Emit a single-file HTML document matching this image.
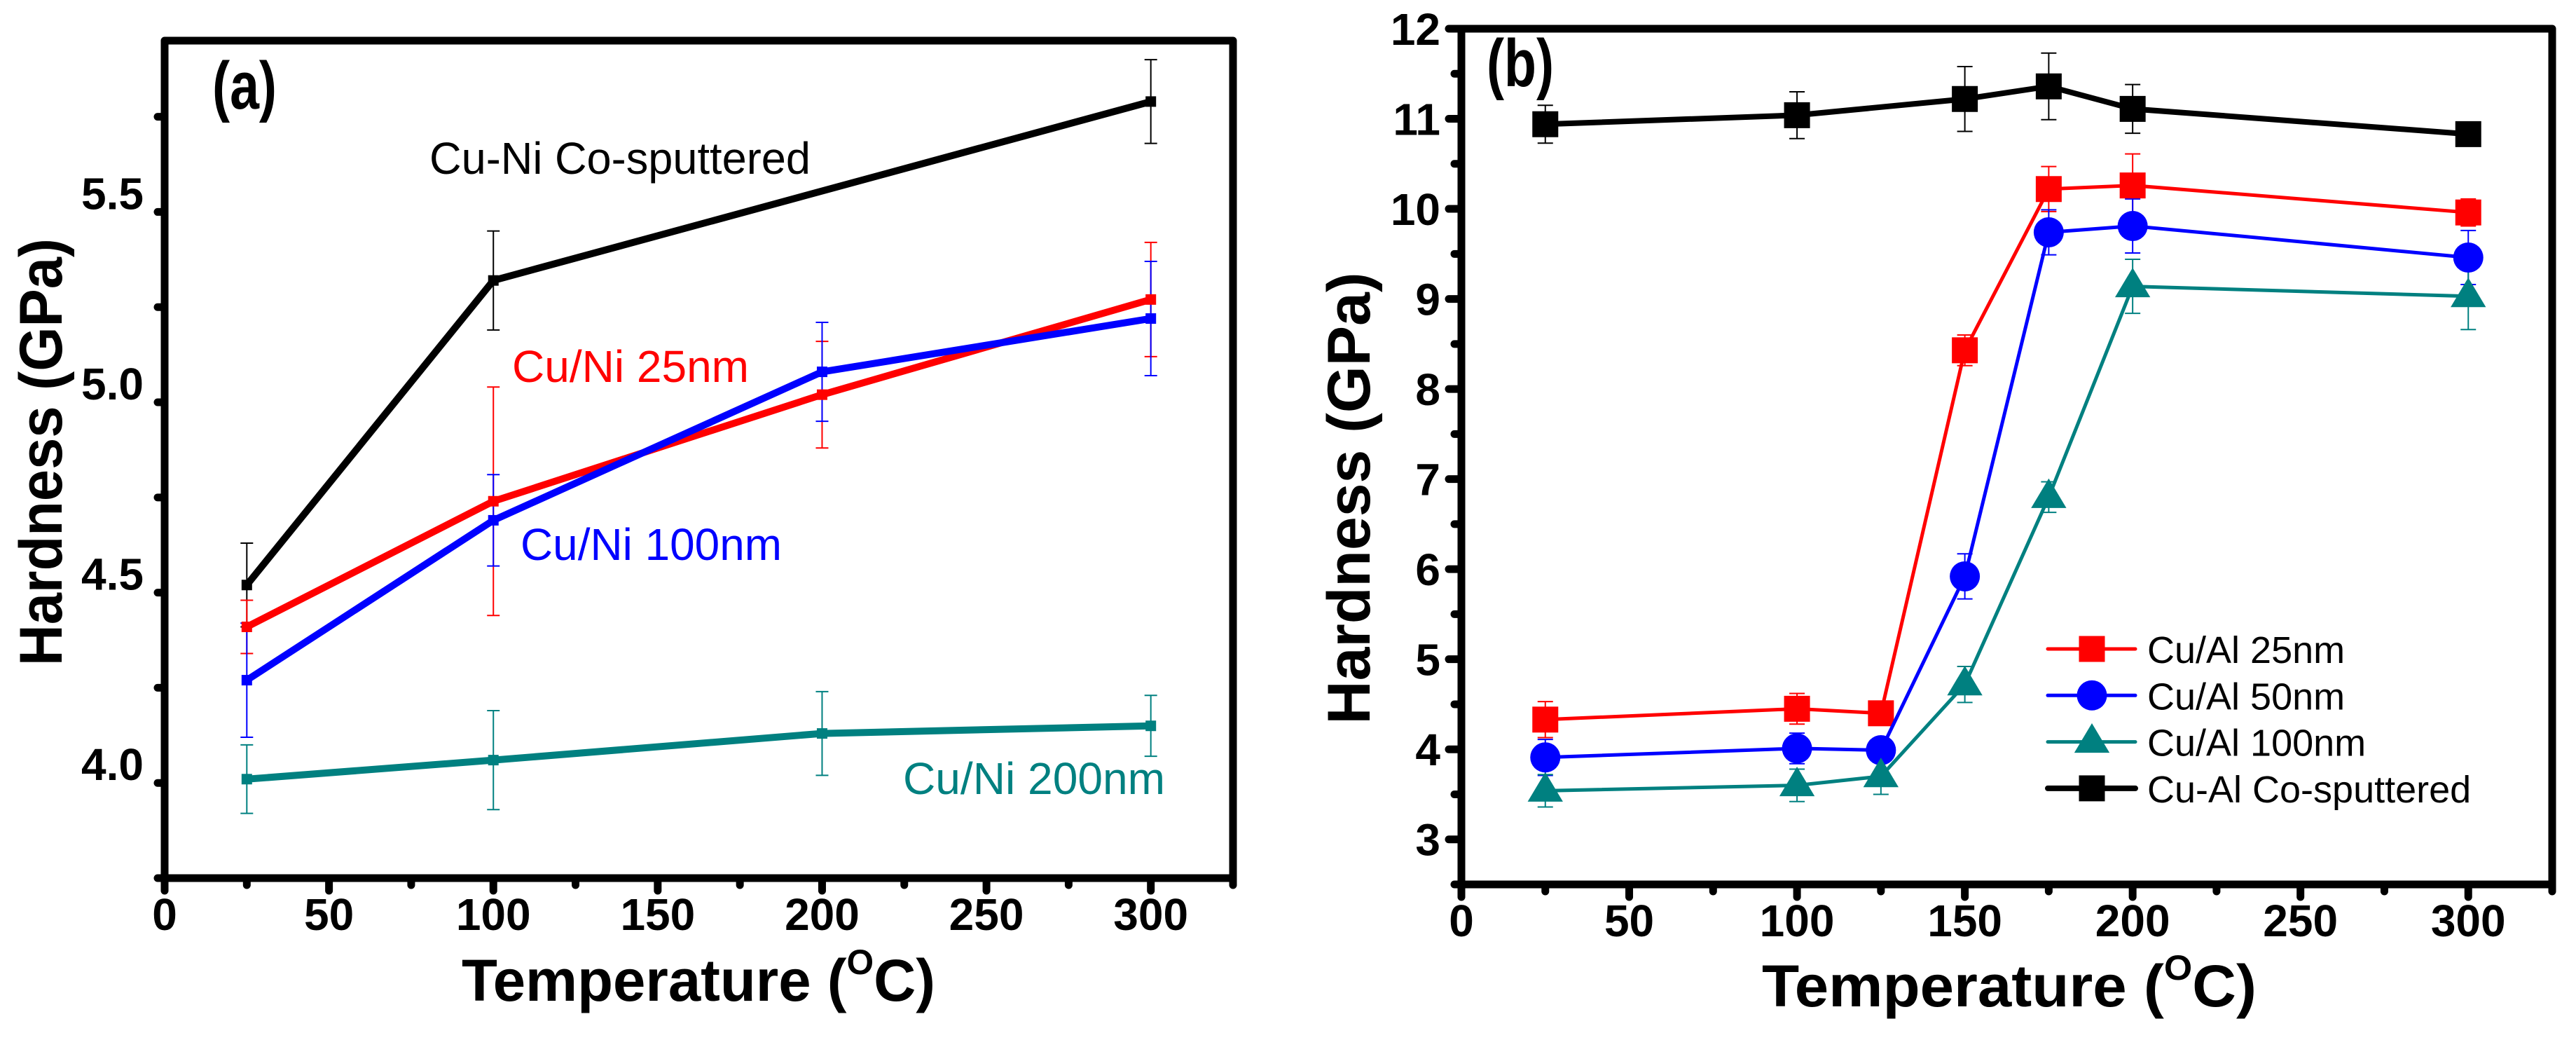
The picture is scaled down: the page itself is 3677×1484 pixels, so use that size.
<!DOCTYPE html>
<html><head><meta charset="utf-8"><style>
html,body{margin:0;padding:0;background:#fff;}
svg{display:block;}
text{font-family:"Liberation Sans",Arial,sans-serif;}
</style></head><body>
<svg id="fig" width="3677" height="1484" viewBox="0 0 3677 1484" xmlns="http://www.w3.org/2000/svg"></svg>
<script>
// ---------- Panel (a) data ----------
const aX = [25, 100, 200, 300];
const aCoX = [25, 100, 300];
const aCo = [4.47, 5.27, 5.74];
const aCoErr = [0.11, 0.13, 0.11];
const a25 = [4.36, 4.69, 4.97, 5.22];
const a25Err = [0.07, 0.30, 0.14, 0.15];
const a100 = [4.22, 4.64, 5.03, 5.17];
const a100Err = [0.15, 0.12, 0.13, 0.15];
const a200 = [3.96, 4.01, 4.08, 4.10];
const a200Err = [0.09, 0.13, 0.11, 0.08];
const aYTicks = [4.0, 4.5, 5.0, 5.5];
const aYTickLabels = ["4.0", "4.5", "5.0", "5.5"];
const xTicks = [0, 50, 100, 150, 200, 250, 300];
const xTickLabels = ["0", "50", "100", "150", "200", "250", "300"];

// ---------- Panel (b) data ----------
const bX = [25, 100, 125, 150, 175, 200, 300];
const bCoX = [25, 100, 150, 175, 200, 300];
const bCo = [10.94, 11.04, 11.22, 11.36, 11.11, 10.83];
const bCoErr = [0.21, 0.26, 0.36, 0.37, 0.27, 0.05];
const b25 = [4.33, 4.45, 4.40, 8.43, 10.22, 10.26, 9.96];
const b25Err = [0.20, 0.17, 0.10, 0.17, 0.25, 0.35, 0.15];
const b50 = [3.91, 4.01, 3.99, 5.92, 9.74, 9.81, 9.46];
const b50Err = [0.20, 0.17, 0.10, 0.25, 0.25, 0.30, 0.30];
const b100 = [3.54, 3.60, 3.70, 4.72, 6.80, 9.14, 9.03];
const b100Err = [0.18, 0.18, 0.20, 0.20, 0.17, 0.30, 0.37];
const bYTicks = [3, 4, 5, 6, 7, 8, 9, 10, 11, 12];
const bYTickLabels = ["3", "4", "5", "6", "7", "8", "9", "10", "11", "12"];
const bLegendLabels = ["Cu/Al 25nm", "Cu/Al 50nm", "Cu/Al 100nm", "Cu-Al Co-sputtered"];

const NS = "http://www.w3.org/2000/svg";
const svg = document.getElementById('fig');
function el(tag, attrs, parent) {
  const e = document.createElementNS(NS, tag);
  for (const k in attrs) e.setAttribute(k, attrs[k]);
  (parent || svg).appendChild(e);
  return e;
}
function scale(d0, d1, r0, r1) { return v => r0 + (v - d0) / (d1 - d0) * (r1 - r0); }

function axes(g, P, sx, sy, yTicks, yLabels, yMinorStep, xTitleX, yTitleX, yTitleY, titleLen, yTitleLen) {
  // ticks
  for (let v = 0; v <= 325; v += 25) {
    const major = v % 50 === 0;
    const t = el('line', {x1: sx(v), x2: sx(v), y1: P.b, y2: P.b + (major ? 18 : 10), stroke: '#000', 'stroke-width': 11, 'stroke-linecap': 'round'}, g);
    
    
  }
  for (let v = P.ymin; v <= P.ymax + 1e-9; v += yMinorStep) {
    const vv = Math.round(v * 1000) / 1000;
    const major = yTicks.some(t => Math.abs(t - vv) < 1e-6);
    const t = el('line', {x1: P.l - (major ? 18 : 10), x2: P.l, y1: sy(vv), y2: sy(vv), stroke: '#000', 'stroke-width': 11, 'stroke-linecap': 'round'}, g);
    
    
  }
  xTicks.forEach((v, i) => {
    const t = el('text', {x: sx(v), y: P.b + 74, 'text-anchor': 'middle', 'font-size': 64, 'font-weight': 'bold'}, g);
    t.textContent = xTickLabels[i];
    
    
  });
  yTicks.forEach((v, i) => {
    const t = el('text', {x: P.l - 30, y: sy(v) + 23, 'text-anchor': 'end', 'font-size': 64, 'font-weight': 'bold'}, g);
    t.textContent = yLabels[i];
    
    
  });
  const frame = el('rect', {x: P.l, y: P.t, width: P.r - P.l, height: P.b - P.t, fill: 'none', stroke: '#000', 'stroke-width': 11, 'stroke-linejoin': 'round'}, g);
  
  
  const xt = el('text', {x: xTitleX, y: P.xTitleY, 'font-size': 84, 'font-weight': 'bold', textLength: titleLen, lengthAdjust: 'spacingAndGlyphs'}, g);
  xt.innerHTML = 'Temperature (<tspan font-size="50" dy="-38">O</tspan><tspan dy="38">C)</tspan>';
  
  
  const yt = el('text', {x: 0, y: 0, 'font-size': 86, 'font-weight': 'bold', 'text-anchor': 'middle', textLength: yTitleLen, lengthAdjust: 'spacingAndGlyphs', transform: `translate(${yTitleX},${yTitleY}) rotate(-90)`}, g);
  yt.textContent = 'Hardness (GPa)';
  
  
}

function errorBars(g, xs, ys, errs, sx, sy, color, cap, name) {
  xs.forEach((x, i) => {
    const X = sx(x), y1 = sy(ys[i] + errs[i]), y2 = sy(ys[i] - errs[i]);
    const e = el('path', {d: `M${X},${y1}V${y2}M${X - cap},${y1}H${X + cap}M${X - cap},${y2}H${X + cap}`, stroke: color, 'stroke-width': 2, fill: 'none'}, g);
    
    
  });
}
function seriesLine(g, xs, ys, sx, sy, color, w, name) {
  const p = el('polyline', {points: xs.map((x, i) => sx(x) + ',' + sy(ys[i])).join(' '), fill: 'none', stroke: color, 'stroke-width': w, 'stroke-linejoin': 'round'}, g);
  
  
}
function marker(g, shape, X, Y, size, color, name) {
  let m;
  if (shape === 'square') m = el('rect', {x: X - size / 2, y: Y - size / 2, width: size, height: size, fill: color}, g);
  else if (shape === 'circle') m = el('circle', {cx: X, cy: Y, r: size / 2 + 3, fill: color}, g);
  else m = el('polygon', {points: `${X},${Y - size * 0.72} ${X - size * 0.68},${Y + size * 0.42} ${X + size * 0.68},${Y + size * 0.42}`, fill: color}, g);
  
  
}
function markers(g, xs, ys, sx, sy, shape, size, color, name) {
  xs.forEach((x, i) => marker(g, shape, sx(x), sy(ys[i]), size, color, name + '-point'));
}
function label(g, txt, x, y, size, color, len, name, extra) {
  const t = el('text', Object.assign({x: x, y: y, 'font-size': size, fill: color}, len ? {textLength: len, lengthAdjust: 'spacingAndGlyphs'} : {}, extra || {}), g);
  t.textContent = txt;
  
  
}

// ---------- Panel (a) ----------
const PA = {l: 235, r: 1760, t: 58, b: 1253, ymin: 3.7, ymax: 5.9, xTitleY: 1428};
const gA = el('g', {});


const sxA = scale(0, 325, PA.l, PA.r), syA = scale(PA.ymin, PA.ymax, PA.b, PA.t);
const series = [
  [aCoX, aCo, aCoErr, '#000000', 'cu-ni-cosputtered'],
  [aX, a25, a25Err, '#ff0000', 'cu-ni-25nm'],
  [aX, a100, a100Err, '#0000ff', 'cu-ni-100nm'],
  [aX, a200, a200Err, '#008080', 'cu-ni-200nm']
];
series.forEach(s => errorBars(gA, s[0], s[1], s[2], sxA, syA, s[3], 9, s[4]));
series.forEach(s => { seriesLine(gA, s[0], s[1], sxA, syA, s[3], 10, s[4]); markers(gA, s[0], s[1], sxA, syA, 'square', 15, s[3], s[4]); });
axes(gA, PA, sxA, syA, aYTicks, aYTickLabels, 0.25, 659, 88, 645, 676, 610);
label(gA, '(a)', 303, 155, 96, '#000', 92, 'panel-a-label', {'font-family': '"Liberation Serif",serif', 'font-weight': 'bold'});
label(gA, 'Cu-Ni Co-sputtered', 613, 248, 64, '#000', 544, 'annotation-cu-ni-cosputtered');
label(gA, 'Cu/Ni 25nm', 731, 545, 64, '#ff0000', 338, 'annotation-cu-ni-25nm');
label(gA, 'Cu/Ni 100nm', 743, 799, 64, '#0000ff', 373, 'annotation-cu-ni-100nm');
label(gA, 'Cu/Ni 200nm', 1289, 1133, 64, '#008080', 374, 'annotation-cu-ni-200nm');

// ---------- Panel (b) ----------
const PB = {l: 2086, r: 3643, t: 41, b: 1262, ymin: 2.5, ymax: 12, xTitleY: 1436};
const gB = el('g', {});


const sxB = scale(0, 325, PB.l, PB.r), syB = scale(PB.ymin, PB.ymax, PB.b, PB.t);
const bSeries = [
  [bCoX, bCo, bCoErr, '#000000', 'cu-al-cosputtered', 'square', 8],
  [bX, b25, b25Err, '#ff0000', 'cu-al-25nm', 'square', 5],
  [bX, b50, b50Err, '#0000ff', 'cu-al-50nm', 'circle', 5],
  [bX, b100, b100Err, '#008080', 'cu-al-100nm', 'triangle', 5]
];
bSeries.forEach(s => errorBars(gB, s[0], s[1], s[2], sxB, syB, s[3], 11, s[4]));
bSeries.forEach(s => { seriesLine(gB, s[0], s[1], sxB, syB, s[3], s[6], s[4]); markers(gB, s[0], s[1], sxB, syB, s[5], 37, s[3], s[4]); });
axes(gB, PB, sxB, syB, bYTicks, bYTickLabels, 0.5, 2515, 1955, 711, 706, 645);
label(gB, '(b)', 2122, 123, 96, '#000', 96, 'panel-b-label', {'font-family': '"Liberation Serif",serif', 'font-weight': 'bold'});

// legend
const gL = el('g', {});


const legShapes = ['square', 'circle', 'triangle', 'square'];
const legColors = ['#ff0000', '#0000ff', '#008080', '#000000'];
bLegendLabels.forEach((lab, i) => {
  const y = 926 + i * 66.3;
  const ln = el('line', {x1: 2923, x2: 3048, y1: y, y2: y, stroke: legColors[i], 'stroke-width': i === 3 ? 8 : 5, 'stroke-linecap': 'round'}, gL);
  
  
  marker(gL, legShapes[i], 2986, y, 37, legColors[i], 'legend-marker');
  label(gL, lab, 3065, y + 20, 54, '#000', null, 'legend-entry');
});
</script>
</body></html>
